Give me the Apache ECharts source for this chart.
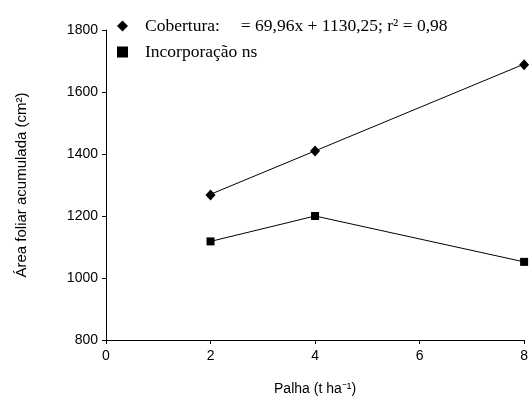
<!DOCTYPE html>
<html><head><meta charset="utf-8">
<script src="https://cdn.jsdelivr.net/npm/echarts@6/dist/echarts.min.js"></script>
<style>html,body{margin:0;padding:0;background:#fff}#c{width:531px;height:402px}</style>
</head><body><div id="c"></div>
<script>
const xDoses = [2, 4, 8];
const cobertura = [1268, 1410, 1688];
const incorporacao = [1118, 1200, 1052];
const trendX = [2, 8];
const trendY = [1270, 1690];
const xTicks = [0, 2, 4, 6, 8];
const yTicks = [800, 1000, 1200, 1400, 1600, 1800];

const chart = echarts.init(document.getElementById('c'), null, {renderer: 'canvas'});
const pair = (xs, ys) => xs.map((x, i) => [x, ys[i]]);
const sans = 'Liberation Sans';
const serif = 'Liberation Serif';
chart.setOption({
  animation: false,
  backgroundColor: '#fff',
  grid: {left: 106, right: 6, top: 30, bottom: 62},
  xAxis: {
    type: 'value', min: xTicks[0], max: xTicks[xTicks.length-1], interval: 2,
    name: 'Palha (t ha⁻¹)', nameLocation: 'middle', nameGap: 42,
    nameTextStyle: {fontFamily: sans, fontSize: 14, color: '#000'},
    axisLine: {lineStyle: {color: '#000', width: 1}},
    axisTick: {show: true, length: 4, lineStyle: {color: '#000'}},
    axisLabel: {fontFamily: sans, fontSize: 14, color: '#000', margin: 9, formatter: v => String(v)},
    splitLine: {show: false}
  },
  yAxis: {
    type: 'value', min: yTicks[0], max: yTicks[yTicks.length-1], interval: 200,
    name: 'Área foliar acumulada (cm²)', nameLocation: 'middle', nameGap: 77, nameRotate: 90,
    nameTextStyle: {fontFamily: sans, fontSize: 15, color: '#000'},
    axisLine: {show: true, lineStyle: {color: '#000', width: 1}},
    axisTick: {show: true, length: 4, lineStyle: {color: '#000'}},
    axisLabel: {fontFamily: sans, fontSize: 14, color: '#000', margin: 8, formatter: v => String(v)},
    splitLine: {show: false}
  },
  legend: {
    orient: 'vertical', left: 112, top: 12, itemGap: 8,
    itemWidth: 11, itemHeight: 11,
    data: [{name: 'Cobertura', icon: 'diamond'}, {name: 'Incorporação', icon: 'rect'}],
    formatter: function (n) {
      return n === 'Cobertura' ? '{a|Cobertura:}{b|= 69,96x + 1130,25; r² = 0,98}' : '{a|Incorporação ns}';
    },
    textStyle: {
      fontFamily: serif, fontSize: 17.5, color: '#000',
      rich: {
        a: {fontFamily: serif, fontSize: 17.5, color: '#000', padding: [0,0,0,12]},
        b: {fontFamily: serif, fontSize: 17.5, color: '#000', padding: [0,0,0,21]}
      }
    },
    selectedMode: false
  },
  series: [
    {
      name: 'trend', type: 'line', data: pair(trendX, trendY), symbol: 'none',
      lineStyle: {color: '#000', width: 1}, silent: true, z: 1
    },
    {
      name: 'Cobertura', type: 'line', data: pair(xDoses, cobertura),
      symbol: 'diamond', symbolSize: [10, 11], itemStyle: {color: '#000'},
      lineStyle: {width: 0, opacity: 0}, z: 3
    },
    {
      name: 'Incorporação', type: 'line', data: pair(xDoses, incorporacao),
      symbol: 'rect', symbolSize: 8, itemStyle: {color: '#000'},
      lineStyle: {color: '#000', width: 1}, z: 3
    }
  ]
});
</script></body></html>
